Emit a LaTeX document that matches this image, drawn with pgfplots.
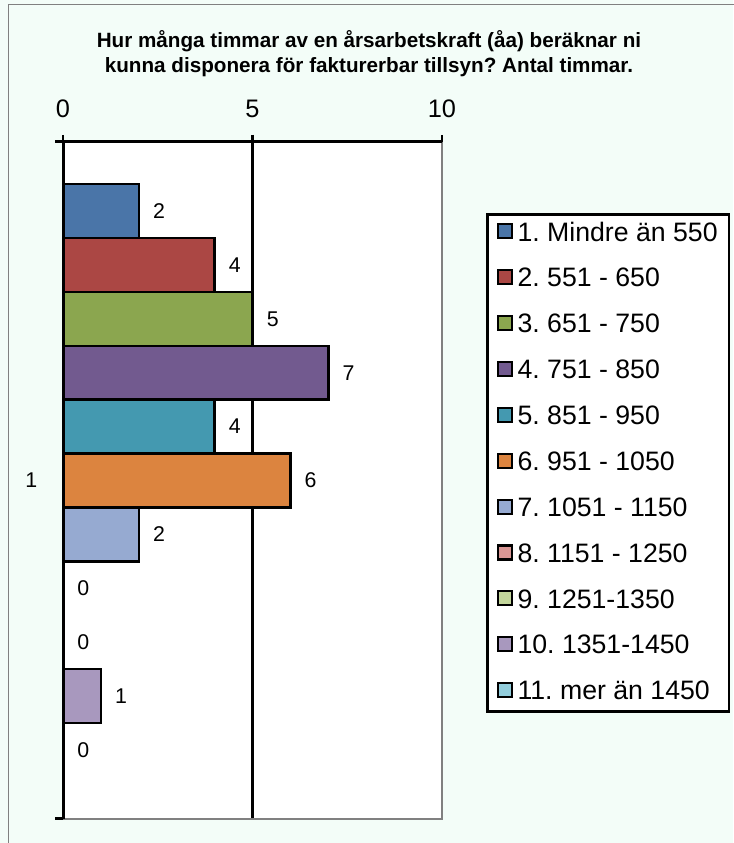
\documentclass[border=0pt]{standalone}
\usepackage{pgfplots}
\pgfplotsset{compat=1.18}
\usepackage{fontspec}
\setmainfont{Liberation Sans}
\frenchspacing

\definecolor{bg}{RGB}{243,253,248}
\definecolor{c1}{RGB}{74,117,168}
\definecolor{c2}{RGB}{171,71,68}
\definecolor{c3}{RGB}{139,166,79}
\definecolor{c4}{RGB}{114,90,143}
\definecolor{c5}{RGB}{68,153,176}
\definecolor{c6}{RGB}{220,132,63}
\definecolor{c7}{RGB}{150,170,209}
\definecolor{c8}{RGB}{217,150,148}
\definecolor{c9}{RGB}{195,214,155}
\definecolor{c10}{RGB}{168,152,190}
\definecolor{c11}{RGB}{146,205,220}
\definecolor{edge}{RGB}{128,128,128}

\pgfplotsset{
  barstyle/.style={fill=#1, draw=black, line width=1.8pt},
}

\begin{document}
\begin{tikzpicture}
% page: 733 x 843 px, 1px = 0.75pt
\begin{scope}[x=0.75pt, y=0.75pt]
\path[use as bounding box, fill=bg] (0,0) rectangle (733,843);
\draw[edge, line width=1pt] (8.5,-5) -- (8.5,838.5) -- (740,838.5);
\node[align=center, font=\bfseries\fontsize{15.5}{18.75}\selectfont] at (369,789)
  {Hur många timmar av en årsarbetskraft (åa) beräknar ni\\kunna disponera för fakturerbar tillsyn? Antal timmar.};
\end{scope}

\begin{axis}[
  name=ax,
  at={(47.25pt,18pt)}, anchor=south west,
  scale only axis,
  width=284.25pt, height=507.75pt,
  xbar, bar width=53.9, bar shift=0pt,
  xmin=0, xmax=10,
  ymin=-338.5, ymax=338.5,
  axis background/.style={fill=white},
  axis line style={draw=none},
  xtick={0,5,10},
  xtick pos=right, xticklabel pos=right,
  tick align=outside,
  major tick length=5.25pt,
  xtick style={black, line width=2pt},
  xticklabel style={font=\fontsize{19}{22}\selectfont, yshift=9.5pt},
  extra x ticks={5}, extra x tick labels={},
  extra x tick style={grid=major, major grid style={black, line width=2.25pt}},
  ytick={0}, yticklabels={1},
  ytick style={draw=none},
  yticklabel style={font=\fontsize{16}{19}\selectfont, xshift=-10.5pt},
  /pgf/number format/assume math mode=true,
  nodes near coords,
  every node near coord/.append style={font=\fontsize{16}{19}\selectfont, black, xshift=6.5pt},
  legend style={
    at={(1.116,0.895)}, anchor=north west,
    draw=black, line width=2pt, fill=white,
    font=\fontsize{20}{24}\selectfont,
    inner xsep=7.5pt, inner ysep=4pt,
    row sep=13.4pt,
    nodes={inner sep=1pt, text height=15pt, text depth=4pt},
  },
  legend cell align=left,
  legend image code/.code={%
    \draw[#1, draw=black, line width=1.6pt] (0pt,-3.5pt) rectangle (10.5pt,7pt);
    \path (12.5pt,0pt);},
]
\addplot[barstyle=c1] coordinates {(2,269.5)};
\addplot[barstyle=c2] coordinates {(4,215.6)};
\addplot[barstyle=c3] coordinates {(5,161.7)};
\addplot[barstyle=c4] coordinates {(7,107.8)};
\addplot[barstyle=c5] coordinates {(4,53.9)};
\addplot[barstyle=c6] coordinates {(6,0)};
\addplot[barstyle=c7] coordinates {(2,-53.9)};
\addplot[barstyle=c8] coordinates {(0,-107.8)};
\addplot[barstyle=c9] coordinates {(0,-161.7)};
\addplot[barstyle=c10] coordinates {(1,-215.6)};
\addplot[barstyle=c11] coordinates {(0,-269.5)};
\legend{1. Mindre än 550, 2. 551 - 650, 3. 651 - 750, 4. 751 - 850, 5. 851 - 950,
  6. 951 - 1050, 7. 1051 - 1150, 8. 1151 - 1250, 9. 1251-1350, 10. 1351-1450, 11. mer än 1450}
\end{axis}

\draw[edge, line width=1.9pt] (ax.north east) -- (ax.south east) -- (ax.south west);
\draw[black, line width=2.25pt] (ax.south west) -- (ax.north west) -- (ax.north east);
\draw[black, line width=2.25pt] (ax.south west) -- ++(-6pt,0);
\draw[black, line width=2.25pt] (ax.north west) -- ++(-6pt,0);
\end{tikzpicture}
\end{document}
